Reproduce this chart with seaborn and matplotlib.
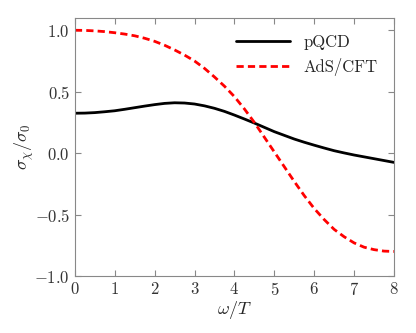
import numpy as np
import pandas as pd
import matplotlib
matplotlib.use("Agg")
import matplotlib.pyplot as plt
import seaborn as sns

# values (omega/T vs sigma_chi/sigma_0)
omega_T = [0.0, 0.25, 0.5, 0.75, 1.0, 1.25, 1.5, 1.75, 2.0, 2.25, 2.5, 2.75,
           3.0, 3.25, 3.5, 3.75, 4.0, 4.25, 4.5, 4.75, 5.0, 5.25, 5.5, 5.75,
           6.0, 6.25, 6.5, 6.75, 7.0, 7.25, 7.5, 7.75, 8.0]
pqcd = [0.325, 0.326, 0.33, 0.337, 0.345, 0.357, 0.37, 0.383, 0.395, 0.405,
        0.41, 0.408, 0.40, 0.385, 0.365, 0.34, 0.31, 0.278, 0.245, 0.21,
        0.175, 0.145, 0.115, 0.089, 0.065, 0.042, 0.02, 0.002, -0.015,
        -0.03, -0.045, -0.06, -0.075]
ads_cft = [1.0, 0.999, 0.995, 0.989, 0.98, 0.969, 0.955, 0.935, 0.91, 0.878,
           0.84, 0.798, 0.75, 0.69, 0.62, 0.545, 0.46, 0.36, 0.25, 0.13,
           0.01, -0.11, -0.23, -0.345, -0.45, -0.54, -0.62, -0.68, -0.73,
           -0.765, -0.785, -0.797, -0.80]

sns.set_style("ticks")
plt.rcParams["font.family"] = ["cmr10", "DejaVu Serif"]
plt.rcParams["mathtext.fontset"] = "cm"
plt.rcParams["axes.formatter.use_mathtext"] = True

df = pd.DataFrame({"x": omega_T, "pQCD": pqcd, "AdS/CFT": ads_cft})

fig = plt.figure(figsize=(4.16, 3.33), dpi=100)
ax = fig.add_axes([0.180, 0.171, 0.767, 0.775])

sns.lineplot(data=df, x="x", y="pQCD", ax=ax, color="black", lw=2, label="pQCD")
sns.lineplot(data=df, x="x", y="AdS/CFT", ax=ax, color="red", lw=2,
             dashes=False, label="AdS/CFT")
ax.lines[1].set_dashes((2.6, 1.5))

ax.set_xlim(0, 8)
ax.set_ylim(-1.0, 1.1)
ax.set_xticks(range(0, 9))
ax.set_yticks([-1.0, -0.5, 0.0, 0.5, 1.0])
ax.set_xlabel(r"$\omega/T$", fontsize=13)
ax.set_ylabel(r"$\sigma_\chi/\sigma_0$", fontsize=13)
ax.xaxis.set_label_coords(0.5, -0.09)
ax.yaxis.set_label_coords(-0.122, 0.5)

for s in ax.spines.values():
    s.set_visible(True)
    s.set_color("#888888")
ax.tick_params(direction="in", top=True, right=True, colors="#888888",
               labelcolor="#333333", labelsize=12, length=4)

leg = ax.legend(loc="upper right", frameon=False, fontsize=12, handlelength=3.2,
                borderaxespad=0.6)
leg.get_lines()[1].set_dashes((2.6, 1.5))

fig.savefig("out.png", dpi=100)
